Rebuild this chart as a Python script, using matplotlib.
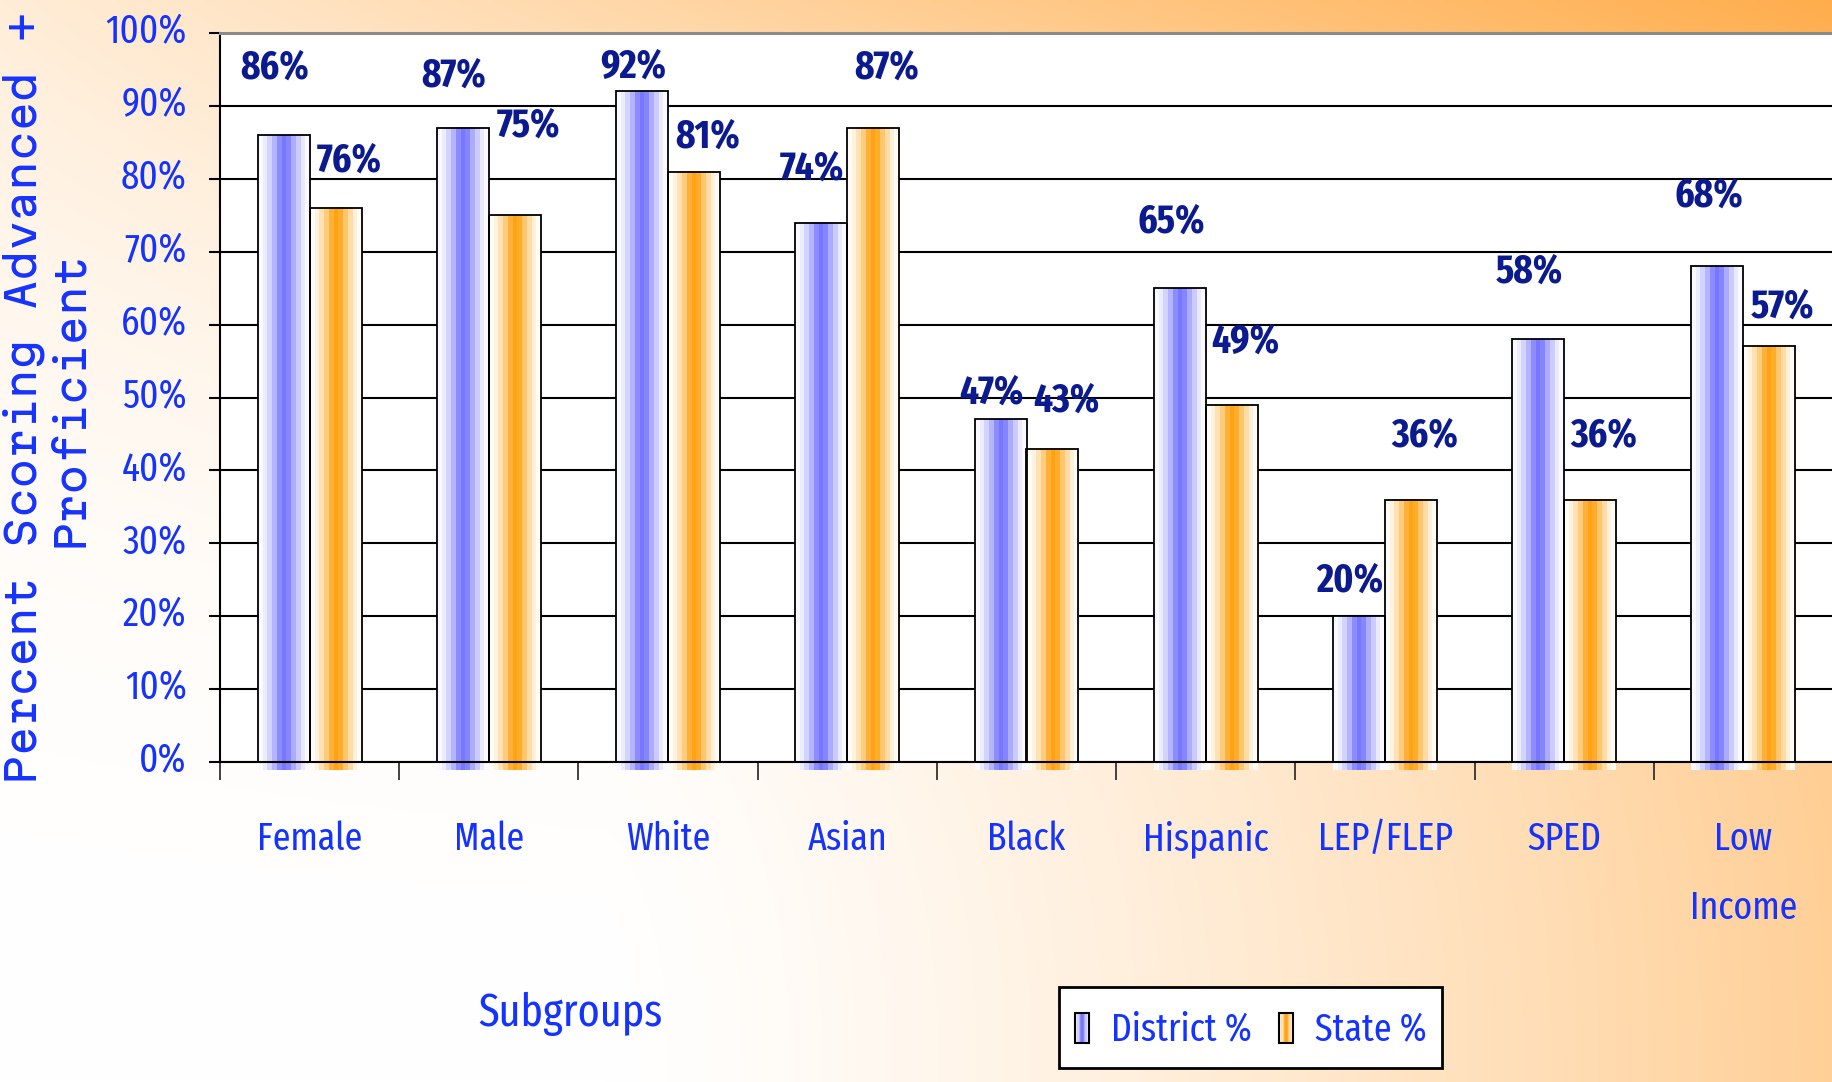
import numpy as np
import matplotlib
matplotlib.use("Agg")
import matplotlib.pyplot as plt
from matplotlib.patches import Rectangle
from matplotlib.legend_handler import HandlerBase
from matplotlib import transforms
from matplotlib.font_manager import FontProperties, fontManager

# ---------------- data ----------------
categories = ["Female", "Male", "White", "Asian", "Black", "Hispanic",
              "LEP/FLEP", "SPED", "Low\nIncome"]
district = [86, 87, 92, 74, 47, 65, 20, 58, 68]
state = [76, 75, 81, 87, 43, 49, 36, 36, 57]
ytick_values = [0, 10, 20, 30, 40, 50, 60, 70, 80, 90, 100]
ytick_labels = ["0%", "10%", "20%", "30%", "40%", "50%", "60%", "70%",
                "80%", "90%", "100%"]
series_names = ["District %", "State %"]

# ---------------- layout (label nudges, in % units) ----------------
district_label_dy = [9.2, 7.1, 3.4, 7.3, 3.7, 9.1, 4.8, 9.2, 9.6]
state_label_dy = [6.4, 12.2, 4.8, 8.2, 6.5, 8.7, 8.7, 8.7, 5.5]

W, H, DPI = 1833, 1082, 100
BLUE_TXT = "#1533FF"
NAVY = "#0B1A8E"
NARROW = ["Fira Sans Extra Condensed", "Roboto Condensed", "DejaVu Sans"]

fig = plt.figure(figsize=(W / DPI, H / DPI), dpi=DPI)

# ---------------- background gradient ----------------
bg = fig.add_axes([0, 0, 1, 1], zorder=-10)
ny, nx = 220, 440
xx = np.linspace(0, 1, nx)[None, :]
yy = np.linspace(0, 1, ny)[:, None]
top = 0.22 + 0.78 * xx
bottom = 0.58 * np.clip((xx - 0.33) / 0.67, 0, 1) ** 1.3
wgt = (1 - yy) ** 2.5
t = np.clip(wgt * top + (1 - wgt) * bottom, 0, 1)
orange_bg = np.array([1.0, 0.68, 0.30])
img = (1 - t[..., None]) * np.ones(3) + t[..., None] * orange_bg
bg.imshow(img, aspect="auto", extent=(0, 1, 0, 1), origin="upper",
          interpolation="bilinear")
bg.set_axis_off()

# ---------------- main axes ----------------
x0px, x1px, ytop, ybot = 220, 1833, 33, 762
ax = fig.add_axes([x0px / W, 1 - ybot / H, (x1px - x0px) / W, (ybot - ytop) / H])
ax.set_facecolor("white")

bw = 0.29
s_prof = np.array([0.04, 0.14, 0.32, 0.55, 0.85, 1.0, 0.9, 0.62, 0.38, 0.16, 0.04])
blue_c = np.array([0.47, 0.47, 1.0])
orng_c = np.array([1.0, 0.64, 0.08])
blue_strip = (1 - s_prof[:, None]) + s_prof[:, None] * blue_c
orng_strip = (1 - s_prof[:, None]) + s_prof[:, None] * orng_c

xs = np.arange(len(categories))
for i, (d, s) in enumerate(zip(district, state)):
    ax.imshow(blue_strip[None, :, :], extent=(i - bw, i, -1.1, d), aspect="auto",
              interpolation="nearest", zorder=2, clip_on=False)
    ax.imshow(orng_strip[None, :, :], extent=(i, i + bw, -1.1, s), aspect="auto",
              interpolation="nearest", zorder=2, clip_on=False)

ax.bar(xs - bw / 2, district, width=bw, facecolor="none", edgecolor="black",
       linewidth=1.3, zorder=3)
ax.bar(xs + bw / 2, state, width=bw, facecolor="none", edgecolor="black",
       linewidth=1.3, zorder=3)

for i, (d, s) in enumerate(zip(district, state)):
    ax.text(i - bw / 2 - 0.05, d + district_label_dy[i], f"{d}%", ha="center",
            va="center", fontsize=29, fontweight="bold", color=NAVY,
            family=NARROW, zorder=5)
    ax.text(i + bw / 2 + 0.075, s + state_label_dy[i], f"{s}%", ha="center",
            va="center", fontsize=29, fontweight="bold", color=NAVY,
            family=NARROW, zorder=5)

ax.set_xlim(-0.5, 8.5)
ax.set_ylim(0, 100)

ax.set_yticks(ytick_values, ytick_labels)
ax.tick_params(axis="y", direction="out", length=8, width=1.5, color="black",
               labelsize=29, labelcolor=BLUE_TXT, pad=16)
for lbl in ax.get_yticklabels():
    lbl.set_family(NARROW)
    lbl.set_transform(lbl.get_transform() +
                      transforms.ScaledTranslation(0, 5 / DPI, fig.dpi_scale_trans))

ax.set_xticks(xs, categories)
ax.set_xticks(np.arange(-0.5, 9, 1), minor=True)
ax.tick_params(axis="x", which="major", length=0, labelsize=28,
               labelcolor=BLUE_TXT, pad=42)
ax.tick_params(axis="x", which="minor", length=13, width=1.3, color="#333333",
               direction="out")
for lbl in ax.get_xticklabels():
    lbl.set_family(NARROW)
    lbl.set_linespacing(2.05)

ax.yaxis.grid(True, color="black", linewidth=1.5, zorder=1)
ax.set_axisbelow(True)
ax.spines["right"].set_visible(False)
ax.spines["top"].set_color("#8a8a8a")
ax.spines["top"].set_linewidth(2.2)
ax.spines["left"].set_linewidth(1.5)
ax.spines["bottom"].set_linewidth(1.5)

# ---------------- titles ----------------
has_martian = any(f.name == "Martian Mono" for f in fontManager.ttflist)
if has_martian:
    ylab_fp = FontProperties(family="Martian Mono", stretch="expanded", size=28.5)
else:
    ylab_fp = FontProperties(family="DejaVu Sans Mono", size=34)
fig.text(46 / W, 1 - 398 / H, "Percent Scoring Advanced +\nProficient",
         rotation=90, ha="center", va="center", multialignment="center",
         fontproperties=ylab_fp, color=BLUE_TXT, linespacing=1.05)
fig.text(570 / W, 1 - 1026 / H, "Subgroups", ha="center", va="baseline",
         fontsize=33, color=BLUE_TXT, family=NARROW)


# ---------------- legend ----------------
class StripeHandler(HandlerBase):
    def __init__(self, colors, frac=0.6):
        super().__init__()
        self.colors = colors
        self.frac = frac

    def create_artists(self, legend, orig_handle, xdescent, ydescent, width,
                       height, fontsize, trans):
        n = len(self.colors)
        hv = height * self.frac
        x0 = -xdescent
        y0 = -ydescent + (height - hv) / 2
        sw = width / n
        arts = [Rectangle((x0 + k * sw, y0), sw, hv, facecolor=c,
                          edgecolor="none", transform=trans)
                for k, c in enumerate(self.colors)]
        arts.append(Rectangle((x0, y0), width, hv, facecolor="none",
                              edgecolor="black", linewidth=1.5, transform=trans))
        return arts


h1 = Rectangle((0, 0), 1, 1)
h2 = Rectangle((0, 0), 1, 1)
leg = fig.legend([h1, h2], series_names, ncol=2, loc="upper left",
                 bbox_to_anchor=(1059 / W, 1 - 987 / H), borderaxespad=0,
                 prop={"family": NARROW, "size": 28}, labelcolor=BLUE_TXT,
                 frameon=True, fancybox=False, edgecolor="black",
                 facecolor="white", framealpha=1, handlelength=0.38,
                 handleheight=1.6, handletextpad=0.55, columnspacing=0.7,
                 borderpad=0.4,
                 handler_map={h1: StripeHandler(list(blue_strip)),
                              h2: StripeHandler(list(orng_strip))})
leg.get_frame().set_linewidth(2)

fig.savefig("out.png", dpi=DPI)
